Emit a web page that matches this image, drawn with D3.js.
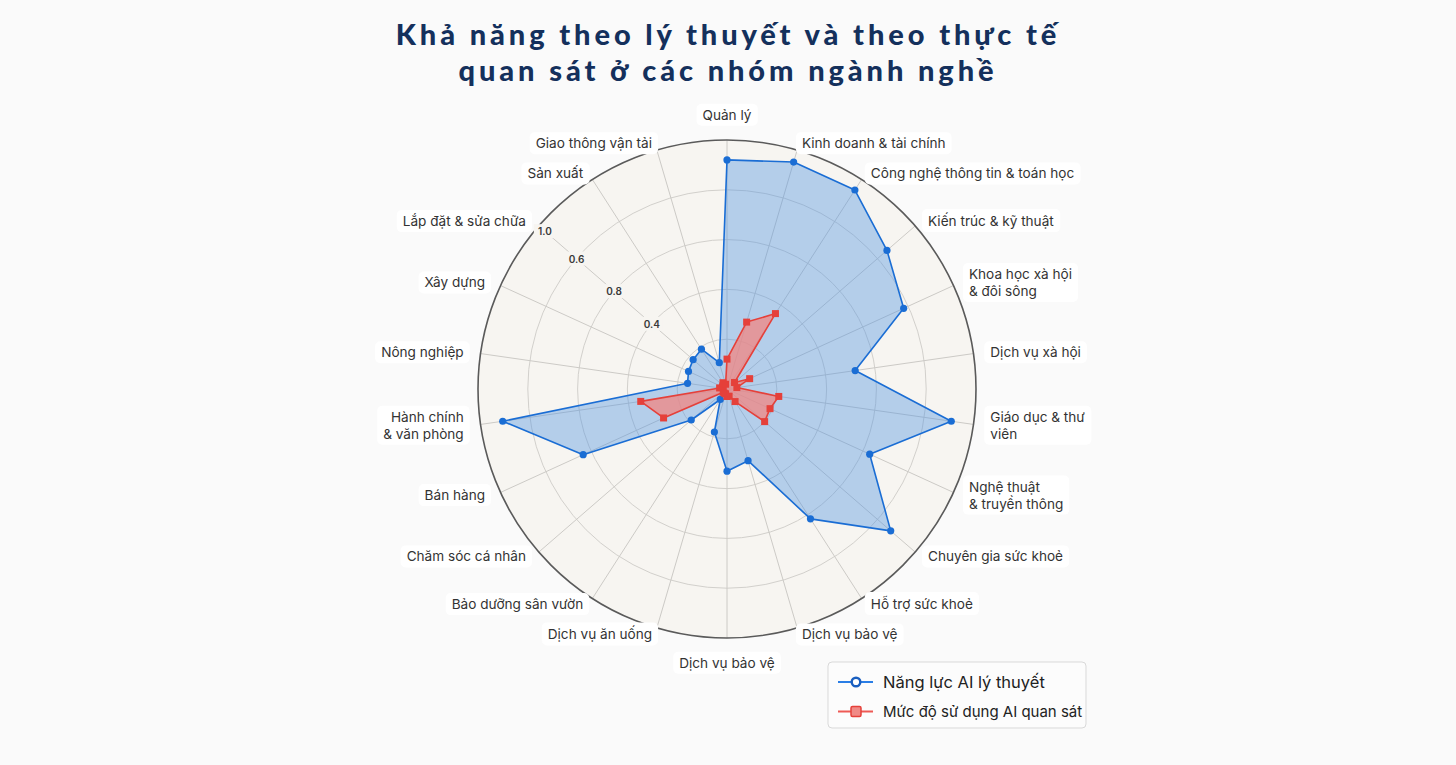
<!DOCTYPE html>
<html>
<head>
<meta charset="utf-8">
<script src="https://cdn.jsdelivr.net/npm/d3@7"></script>
<style>
  html, body { margin: 0; padding: 0; background: #fafafa; }
  svg { display: block; }
</style>
</head>
<body>
<svg id="chart" width="1456" height="765"></svg>
<script>
// ---------- DATA ----------
const titleLines = ["Khả năng theo lý thuyết và theo thực tế", "quan sát ở các nhóm ngành nghề"];
const categories = [
  "Quản lý",
  "Kinh doanh & tài chính",
  "Công nghệ thông tin & toán học",
  "Kiến trúc & kỹ thuật",
  "Khoa học xà hội\n& đôi sông",
  "Dịch vụ xà hội",
  "Giáo dục & thư\nviên",
  "Nghệ thuật\n& truyền thông",
  "Chuyên gia sức khoẻ",
  "Hỗ trợ sức khoẻ",
  "Dịch vụ bảo vệ",
  "Dịch vụ bảo vệ",
  "Dịch vụ ăn uống",
  "Bảo dưỡng sân vườn",
  "Chăm sóc cá nhân",
  "Bán hàng",
  "Hành chính\n& văn phòng",
  "Nông nghiệp",
  "Xây dựng",
  "Lắp đặt & sửa chữa",
  "Sản xuất",
  "Giao thông vận tải"
];
const theoretical = [0.92, 0.95, 0.95, 0.85, 0.78, 0.52, 0.91, 0.63, 0.87, 0.62, 0.30,
                     0.33, 0.18, 0.05, 0.19, 0.635, 0.91, 0.16, 0.17, 0.18, 0.19, 0.11];
const observed    = [0.12, 0.28, 0.36, 0.04, 0.10, 0.04, 0.21, 0.19, 0.20, 0.06, 0.03,
                     0.03, 0.02, 0.02, 0.02, 0.28, 0.35, 0.03, 0.02, 0.02, 0.03, 0.02];
const seriesNames = ["Năng lực AI lý thuyết", "Mức độ sử dụng AI quan sát"];
const ringValues = [0.2, 0.4, 0.6, 0.8, 1.0];
const tickValues = [0.4, 0.6, 0.8, 1.0];
const tickLabels = ["0.4", "0.8", "0.6", "1.0"];
const tickSpoke = 19;

// ---------- LAYOUT ----------
const W = 1456, H = 765;
const cx = 727, cy = 389, R = 249;
const svg = d3.select("#chart");
const n = categories.length;
const angle = d3.scaleLinear().domain([0, n]).range([0, 2 * Math.PI]);
const r = d3.scaleLinear().domain([0, 1]).range([0, R]);

const BLUE = "#1a6dd4", RED = "#e5403a";
const labelFont = "Inter, 'Open Sans', sans-serif";

// Title
const title = svg.append("text")
  .attr("x", 728).attr("text-anchor", "middle")
  .attr("font-family", "Lato, 'Noto Sans', sans-serif")
  .attr("font-weight", 900).attr("font-size", 29)
  .attr("letter-spacing", 3.9)
  .attr("fill", "#14305c");
titleLines.forEach((t, i) => {
  title.append("tspan").attr("x", 728).attr("y", 45 + i * 36).text(t);
});

const g = svg.append("g").attr("transform", `translate(${cx},${cy})`);

// polar background
g.append("circle").attr("r", r(1)).attr("fill", "#f7f5f1");

// rings
g.selectAll("circle.ring").data(ringValues.slice(0, -1)).join("circle")
  .attr("class", "ring").attr("r", d => r(d))
  .attr("fill", "none").attr("stroke", "#d2d0cc").attr("stroke-width", 1);

// spokes
g.selectAll("line.spoke").data(d3.range(n)).join("line")
  .attr("class", "spoke")
  .attr("x1", 0).attr("y1", 0)
  .attr("x2", i => r(1) * Math.sin(angle(i)))
  .attr("y2", i => -r(1) * Math.cos(angle(i)))
  .attr("stroke", "#cccac6").attr("stroke-width", 1);

// outer ring
g.append("circle").attr("r", r(1)).attr("fill", "none")
  .attr("stroke", "#5a5a5a").attr("stroke-width", 1.6);

// radar polygons
const radial = d3.lineRadial()
  .angle((d, i) => angle(i))
  .radius(d => r(d))
  .curve(d3.curveLinearClosed);

g.append("path").datum(theoretical)
  .attr("d", radial)
  .attr("fill", "rgba(80,148,226,0.40)")
  .attr("stroke", BLUE).attr("stroke-width", 1.6).attr("stroke-linejoin", "round");

g.append("path").datum(observed)
  .attr("d", radial)
  .attr("fill", "rgba(242,134,130,0.75)")
  .attr("stroke", RED).attr("stroke-width", 1.6).attr("stroke-linejoin", "round");

// markers
g.selectAll("circle.bpt").data(theoretical).join("circle")
  .attr("class", "bpt")
  .attr("cx", (d, i) => r(d) * Math.sin(angle(i)))
  .attr("cy", (d, i) => -r(d) * Math.cos(angle(i)))
  .attr("r", 3.6).attr("fill", BLUE);

const sq = 7;
g.selectAll("rect.rpt").data(observed).join("rect")
  .attr("class", "rpt")
  .attr("x", (d, i) => r(d) * Math.sin(angle(i)) - sq / 2)
  .attr("y", (d, i) => -r(d) * Math.cos(angle(i)) - sq / 2)
  .attr("width", sq).attr("height", sq)
  .attr("fill", RED);

// tick labels along one spoke
const tg = g.append("g");
tickValues.forEach((v, k) => {
  const rr = Math.min(r(v), R - 8);
  const a = angle(tickSpoke);
  const x = rr * Math.sin(a), y = -rr * Math.cos(a);
  tg.append("rect").attr("x", x - 11).attr("y", y - 7).attr("width", 22).attr("height", 14)
    .attr("fill", "#f7f5f1");
  tg.append("text").attr("x", x).attr("y", y)
    .attr("text-anchor", "middle").attr("dominant-baseline", "central")
    .attr("font-family", labelFont).attr("font-size", 10).attr("font-weight", 600)
    .attr("fill", "#3a3a3a").text(tickLabels[k]);
});

// category labels
const lg = svg.append("g");
categories.forEach((c, i) => {
  const a = angle(i);
  const s = Math.sin(a), co = Math.cos(a);
  let anchor = "middle", x, y;
  if (Math.abs(s) < 0.1) {
    x = cx + 274 * s; y = cy - 274 * co;
  } else {
    anchor = s > 0 ? "start" : "end";
    x = cx + 266 * s; y = cy - 256 * co;
  }
  const lines = c.split("\n");
  const lh = 17;
  const grp = lg.append("g");
  const t = grp.append("text")
    .attr("text-anchor", anchor)
    .attr("font-family", labelFont).attr("font-size", 13.6)
    .attr("fill", "#333333");
  lines.forEach((ln, k) => {
    t.append("tspan").attr("x", x)
      .attr("y", y + (k - (lines.length - 1) / 2) * lh)
      .attr("dy", "0.35em").text(ln);
  });
  const bb = t.node().getBBox();
  grp.insert("rect", "text")
    .attr("x", bb.x - 6).attr("y", bb.y - 3)
    .attr("width", bb.width + 12).attr("height", bb.height + 6)
    .attr("rx", 5).attr("fill", "#ffffff");
});

// legend
const leg = svg.append("g").attr("transform", "translate(828,662)");
leg.append("rect").attr("width", 258).attr("height", 66).attr("rx", 4)
  .attr("fill", "#fcfcfc").attr("stroke", "#d9d9d9").attr("stroke-width", 1);
const legendSizes = [16.5, 15];
seriesNames.forEach((name, k) => {
  const y = 20 + k * 29.5;
  leg.append("line").attr("x1", 10).attr("x2", 45).attr("y1", y).attr("y2", y)
    .attr("stroke", k === 0 ? "#2a7ee6" : "#ee5a55").attr("stroke-width", 1.8);
  if (k === 0) {
    leg.append("circle").attr("cx", 28).attr("cy", y).attr("r", 4.3)
      .attr("fill", "#fff").attr("stroke", "#1a5fc0").attr("stroke-width", 2.4);
  } else {
    leg.append("rect").attr("x", 23).attr("y", y - 5).attr("width", 10).attr("height", 10)
      .attr("rx", 1.5).attr("fill", "#f08a86").attr("stroke", RED).attr("stroke-width", 1.5);
  }
  leg.append("text").attr("x", 55).attr("y", y).attr("dy", "0.35em")
    .attr("font-family", labelFont).attr("font-size", legendSizes[k])
    .attr("fill", "#222").text(name);
});
</script>
</body>
</html>
